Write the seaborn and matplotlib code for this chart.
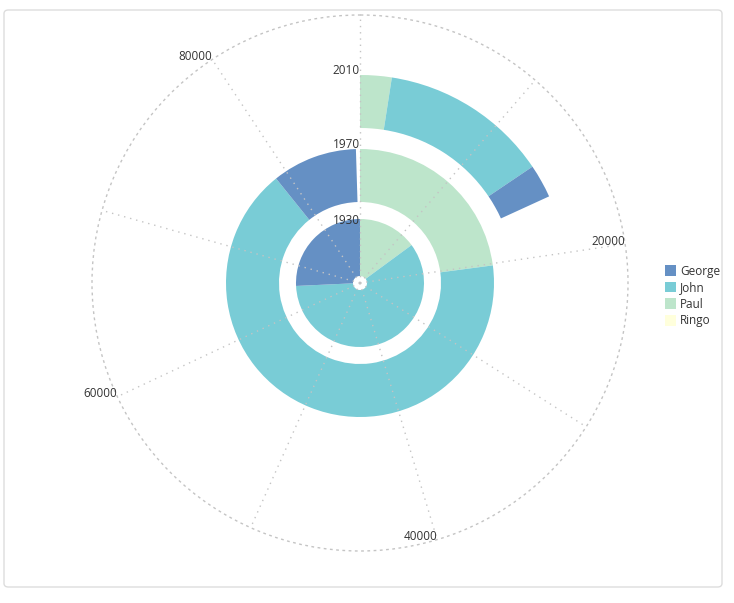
#!/usr/bin/env python3
"""
Radial stacked bar chart: votes per member by year, angle = value.
"""

import matplotlib.pyplot as plt
import matplotlib.transforms as mtransforms
import numpy as np
import seaborn as sns
from matplotlib.patches import FancyBboxPatch, Patch

years = ["1930", "1970", "2010"]
members = ["George", "John", "Paul", "Ringo"]

george = [22700, 9070, 2300]
john = [52350, 58500, 11560]
paul = [13150, 20200, 2160]
ringo = [0, 0, 0]

angle_ticks = [0, 10000, 20000, 30000, 40000, 50000, 60000, 70000, 80000]
angle_labels = [20000, 40000, 60000, 80000]

sns.set_theme(style="white")
plt.rcParams["font.family"] = ["Open Sans", "DejaVu Sans"]

palette = {
    "George": "#6590c4",
    "John": "#79ccd6",
    "Paul": "#bde5cb",
    "Ringo": "#ffffdc",
}

values = {"George": george, "John": john, "Paul": paul, "Ringo": ringo}
stack_order = ["Ringo", "Paul", "John", "George"]

totals = np.sum([values[m] for m in members], axis=0)
theta_max = totals.max()


def to_theta(v):
    return np.deg2rad(np.asarray(v, dtype=float) / theta_max * 360.0)


# ring geometry in pixels (radial axis runs 0..268)
r_outer_circle = 268
ring_inner = np.array([7, 81, 155])
ring_outer = np.array([64, 134, 208])
year_label_r = [63, 139, 213]

W, H = 734, 603
cx, cy = 360, 283
fig = plt.figure(figsize=(W / 100, H / 100), dpi=100)
ax = fig.add_axes(
    [
        (cx - r_outer_circle) / W,
        1 - (cy + r_outer_circle) / H,
        2 * r_outer_circle / W,
        2 * r_outer_circle / H,
    ],
    projection="polar",
)
ax.set_theta_zero_location("N")
ax.set_theta_direction(-1)
ax.set_ylim(0, r_outer_circle)

start = np.zeros(len(years))
for m in stack_order:
    vals = np.array(values[m], dtype=float)
    ax.bar(
        to_theta(start),
        ring_outer - ring_inner,
        width=to_theta(vals),
        bottom=ring_inner,
        align="edge",
        color=palette[m],
        linewidth=0,
        zorder=1,
    )
    start = start + vals

grid_color = "#c4c4c4"
ax.set_xticks(to_theta(angle_ticks))
ax.set_xticklabels([])
ax.set_yticks([])
ax.xaxis.grid(True, color=grid_color, linestyle=(0, (1, 3.5)), linewidth=1)
ax.set_axisbelow(False)
for line in ax.xaxis.get_gridlines():
    line.set_zorder(3)
ax.spines["polar"].set_linestyle((0, (1, 3.5)))
ax.spines["polar"].set_color(grid_color)
ax.spines["polar"].set_linewidth(1)

raised = mtransforms.offset_copy(ax.transData, fig=fig, y=3, units="dots")
for v in angle_labels:
    ax.text(to_theta(v), r_outer_circle, str(v), ha="right", va="center",
            fontsize=8.5, color="#333333", zorder=4, transform=raised)

for i, y in enumerate(years):
    ax.text(0, year_label_r[i], y, ha="right", va="center",
            fontsize=8.5, color="#333333", zorder=4)

handles = [Patch(facecolor=palette[m], edgecolor="none", label=m) for m in members]
fig.legend(
    handles=handles,
    loc="center left",
    bbox_to_anchor=(654 / W, 1 - 296 / H),
    frameon=False,
    handlelength=1.0,
    handleheight=1.0,
    labelspacing=0.3,
    handletextpad=0.3,
    fontsize=8.5,
    labelcolor="#333333",
)

fig.patches.append(
    FancyBboxPatch(
        (4 / W, 16 / H),
        718 / W,
        577 / H,
        boxstyle="round,pad=0,rounding_size=0.006",
        transform=fig.transFigure,
        facecolor="none",
        edgecolor="#dddddd",
        linewidth=1,
    )
)

fig.savefig("out.png", dpi=100)
